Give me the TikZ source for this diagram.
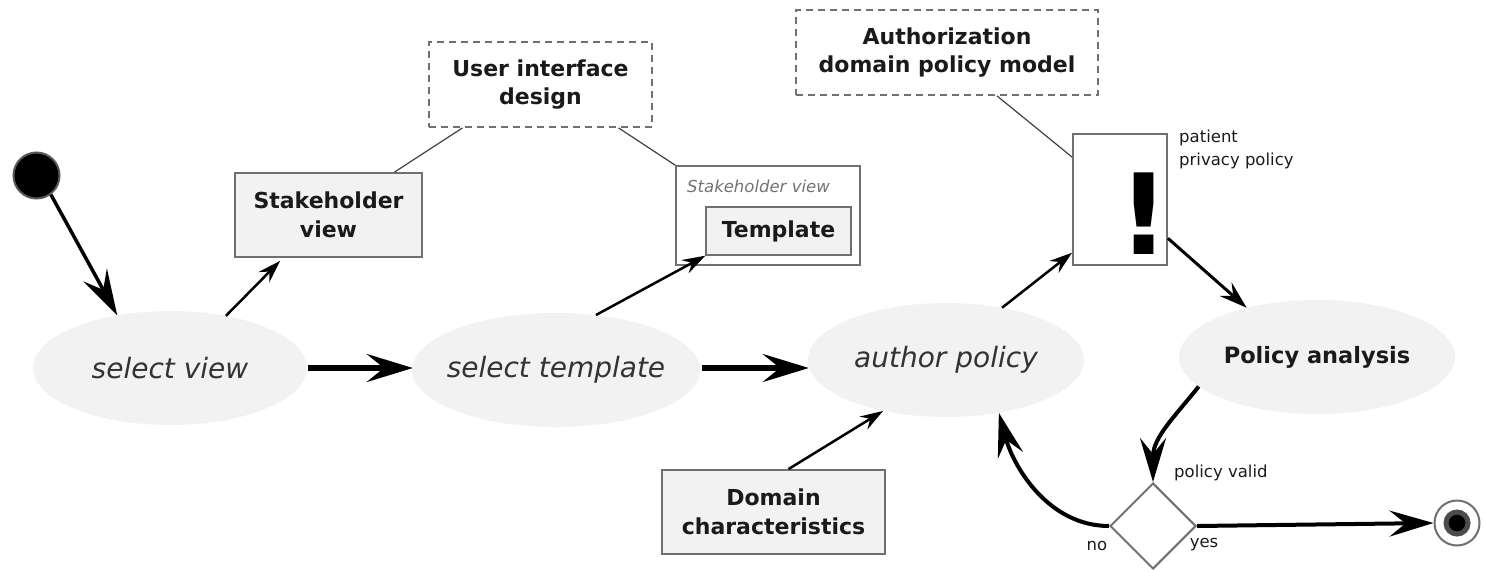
\documentclass[tikz,border=0pt]{standalone}
\usepackage{fontspec}
\setmainfont{DejaVu Sans}
\usetikzlibrary{shapes.geometric,arrows.meta,calc}
\definecolor{elfill}{HTML}{F2F2F2}
\definecolor{bord}{HTML}{707070}
\definecolor{txt}{HTML}{1A1A1A}
\definecolor{itx}{HTML}{333333}
\begin{document}
\begin{tikzpicture}[x=1pt,y=-1pt,
  act/.style={ellipse,fill=elfill,inner sep=0pt,text=itx},
  actit/.style={act,font=\fontsize{28}{32}\selectfont\itshape},
  actbf/.style={act,font=\fontsize{22.5}{28}\selectfont\bfseries,text=txt},
  art/.style={rectangle,fill=elfill,draw=bord,line width=1.8pt,inner sep=0pt,align=center,font=\fontsize{22}{28.5}\selectfont\bfseries,text=txt},
  notebox/.style={rectangle,draw=bord,dash pattern=on 7pt off 5pt,line width=1.8pt,inner sep=0pt,align=center,font=\fontsize{22}{28.5}\selectfont\bfseries,text=txt},
  smalltxt/.style={inner sep=0pt,font=\fontsize{16.5}{23}\selectfont,text=txt},
  bigflow/.style={line width=5.5pt,-{Stealth[length=46pt,width=28pt,inset=17pt]}},
  medflow/.style={line width=4pt,-{Stealth[length=44pt,width=26pt,inset=16pt]}},
  startflow/.style={line width=3.5pt,-{Stealth[length=46pt,width=27pt,inset=17pt]}},
  midflow/.style={line width=3pt,-{Stealth[length=28pt,width=18pt,inset=10pt]}},
  thinflow/.style={line width=2.5pt,-{Stealth[length=23pt,width=15pt,inset=8pt]}},
  noteline/.style={draw=black!75,line width=1.2pt}
]
\useasboundingbox (0,0) rectangle (1485,570);

% initial and final states
\node[circle,fill=black,draw=black!65,line width=2pt,minimum size=46pt,inner sep=0pt] (init) at (36.5,175.5) {};
\node[circle,fill=white,draw=bord,line width=2pt,minimum size=45pt,inner sep=0pt] (fin) at (1457,523) {};
\node[circle,fill=black,draw=black!70,line width=5pt,minimum size=22pt,inner sep=0pt] (finc) at (1457,523) {};

% activities
\node[actit,minimum width=274pt,minimum height=114pt] (sv) at (170,368) {\makebox[0pt]{select view}};
\node[actit,minimum width=288pt,minimum height=114pt] (st) at (556,370) {\makebox[0pt]{select template}};
\node[actit,minimum width=276pt,minimum height=114pt] (ap) at (946,360) {\makebox[0pt]{author policy}};
\node[actbf,minimum width=276pt,minimum height=114pt] (pa) at (1317,357) {\makebox[0pt]{Policy analysis}};

% artifacts
\node[art,minimum width=187pt,minimum height=84pt] (shv) at (328.5,215) {Stakeholder\\view};
\node[rectangle,draw=bord,fill=white,line width=1.8pt,minimum width=184pt,minimum height=99pt,inner sep=0pt] (cont) at (768,215.5) {};
\node[inner sep=0pt,anchor=west,font=\fontsize{16.5}{20}\selectfont\itshape,text=black!55] (contlab) at (687,186) {Stakeholder view};
\node[art,line width=1.4pt,minimum width=145pt,minimum height=48pt] (tpl) at (778.5,231) {Template};
\node[art,minimum width=223pt,minimum height=84pt] (dm) at (773.5,512) {Domain\\characteristics};

% notes
\node[notebox,minimum width=223pt,minimum height=85pt] (ui) at (540.5,84.5) {User interface\\design};
\node[notebox,minimum width=302pt,minimum height=85pt] (auth) at (947,52.5) {Authorization\\domain policy model};

% policy (exclamation box)
\node[rectangle,draw=bord,fill=white,line width=1.8pt,minimum width=94pt,minimum height=131pt,inner sep=0pt] (ex) at (1120,199.5) {};
\node[inner sep=0pt,font=\fontsize{112}{112}\selectfont\bfseries,text=black] (bang) at (1144,213.5) {!};
\node[smalltxt,anchor=north west,align=left] (pp) at (1179,130) {patient\\privacy policy};

% decision
\node[diamond,draw=bord,fill=white,line width=2pt,minimum width=86pt,minimum height=86pt,inner sep=0pt] (dia) at (1153,526) {};
\node[smalltxt,anchor=west] (pv) at (1174,473) {policy valid};
\node[smalltxt] (no) at (1097,546) {no};
\node[smalltxt] (yes) at (1204,545) {yes};

% note connectors
\draw[noteline] ($(ui.south)+(-78,0)$) -- ($(shv.north)+(66,0)$);
\draw[noteline] ($(ui.south)+(78,0)$) -- (cont.north west);
\draw[noteline] ($(auth.south)+(50,0)$) -- ($(ex.north west)+(0,24)$);

% flows
\draw[startflow] (init.-53) -- (sv.135);
\draw[bigflow] ($(sv.east)+(1,0)$) -- ($(sv.east -| st.west)+(1,0)$);
\draw[bigflow] ($(sv.east -| st.east)+(2,0)$) -- ($(sv.east -| ap.west)+(1,0)$);
\draw[thinflow] (sv.43) -- ($(shv.south west)+(46,3)$);
\draw[thinflow] (st.54) -- (tpl.south west);
\draw[thinflow] (ap.43) -- (ex.228);
\draw[thinflow] ($(dm.north)+(15,0)$) -- (ap.219);
\draw[midflow] (ex.321) -- (pa.145);
\draw[medflow] (pa.194) .. controls +(-22,28) and +(0,-45) .. (dia.north);
\draw[medflow] (dia.west) .. controls +(-60,0) and +(15,55) .. (ap.315);
\draw[medflow] (dia.east) -- (fin.west);
\end{tikzpicture}
\end{document}
